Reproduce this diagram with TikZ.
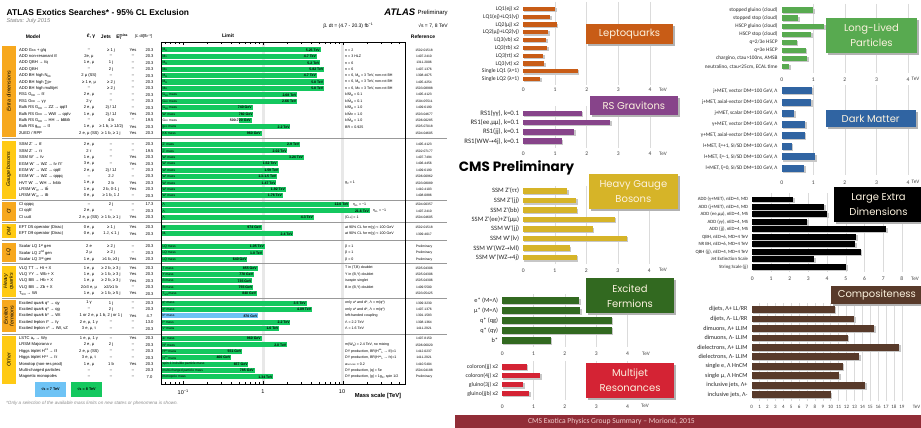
\documentclass[tikz,border=0pt]{standalone}
\usepackage{graphicx}
\usepackage{fontspec}
\setmainfont{Liberation Sans}
\newfontfamily\carl{Carlito}
\newfontfamily\popp{Poppins}
\newfontfamily\djv{DejaVu Sans}
\definecolor{agreen}{RGB}{20,200,95}
\definecolor{ablue}{RGB}{110,195,245}
\definecolor{corange}{RGB}{247,168,30}
\definecolor{cyellow}{RGB}{255,202,20}
\definecolor{lqc}{RGB}{200,92,22}
\definecolor{rsc}{RGB}{135,68,138}
\definecolor{hgc}{RGB}{214,180,40}
\definecolor{efc}{RGB}{50,105,32}
\definecolor{mjc}{RGB}{212,35,52}
\definecolor{llc}{RGB}{88,170,80}
\definecolor{dmc}{RGB}{48,100,162}
\definecolor{cpc}{RGB}{88,58,42}
\definecolor{boxtxt}{RGB}{252,242,222}
\definecolor{bandc}{RGB}{145,45,55}
\definecolor{bandtxt}{RGB}{240,205,205}
\newcommand{\fsz}[1]{\fontsize{#1}{#1}\selectfont}
\newcommand{\subx}[1]{\raisebox{-0.35ex}{\scalebox{0.7}{#1}}}
\newcommand{\supx}[1]{\raisebox{0.75ex}{\scalebox{0.7}{#1}}}
\newcommand{\car}{{\djv\scalebox{0.85}{→}}}
\newcounter{nd}
\def\barcol{agreen}
\def\barstart{161}
\def\clabsize{5.7}
\tikzset{
 atx/.style={font=\fsz{4.1}, inner sep=0pt},
 ntx/.style={font=\fsz{3.6}, inner sep=0pt, anchor=west},
 rtx/.style={font=\fsz{3.3}, inner sep=0pt},
 blx/.style={font=\fsz{3.3}, inner sep=0.4pt, anchor=west},
 vlx/.style={font=\bfseries\fsz{3.5}, inner sep=0.6pt, anchor=east},
 hdx/.style={font=\bfseries\fsz{5}, inner sep=0pt},
 clab/.style={font=\carl\fsz{\clabsize}, inner sep=0pt, anchor=east, text=black!85},
 caxis/.style={font=\carl\fsz{5.6}, inner sep=0pt, text=black!75},
 cgrid/.style={draw=black!14, line width=0.5pt},
 ttl/.style={font=\popp\fontsize{10}{15}\selectfont, text=boxtxt, align=center, inner sep=0pt},
 sepl/.style={draw=black!40, line width=0.9pt},
}
% ATLAS row: y, model, lep, jets, met, lumi, bar label, mass (TeV), value text
\newcommand{\arow}[9]{%
 \stepcounter{nd}%
 \node[atx,anchor=west] (mo\arabic{nd}) at (19,#1) {#2};
 \node[atx] (le\arabic{nd}) at (89,#1) {#3};
 \node[atx] (je\arabic{nd}) at (111,#1) {#4};
 \node[atx] (me\arabic{nd}) at (133,#1) {#5};
 \node[atx] (lu\arabic{nd}) at (149.5,#1) {#6};
 \pgfmathsetmacro\xe{263+80*log10(#8)}%
 \fill[\barcol] (\barstart,#1-2.5) rectangle (\xe,#1+2.5);
 \node[blx] (bl\arabic{nd}) at (162,#1) {#7};
 \node[vlx] (va\arabic{nd}) at (\xe,#1) {#9};
}
% note: y, x, note, reference
\newcommand{\anote}[4]{%
 \stepcounter{nd}%
 \node[ntx] (no\arabic{nd}) at (#2,#1) {#3};
 \node[rtx] (re\arabic{nd}) at (424,#1) {#4};
}
\newcommand{\catbox}[4]{%
 \stepcounter{nd}%
 \fill[#3] (2,#1) rectangle (15.5,#2);
 \node[rotate=90, font=\itshape\fontsize{5.3}{5.8}\selectfont, align=center, inner sep=0pt] (cat\arabic{nd}) at (8.75,{(#1+#2)/2}) {#4};
}
% CMS chart grid: x0, scale, ytop, ybot, nmax, ylabel, x of TeV
\newcommand{\cgridm}[7]{%
 \stepcounter{nd}%
 \foreach \i in {1,...,#5} {\draw[cgrid] ({#1+\i*#2},#3) -- ({#1+\i*#2},#4);}
 \foreach \i in {0,...,#5} {\node[caxis] (ax\arabic{nd}n\i) at ({#1+\i*#2},#6) {\i};}
 \node[caxis,font=\carl\fsz{5.2}] (tev\arabic{nd}) at (#7,#6-0.5) {TeV};
}
% CMS bar: x0, scale, y, value, half height, colour, label
\newcommand{\cbar}[7]{%
 \stepcounter{nd}%
 \fill[black!22] ({#1+1},{#3-#5+1.2}) rectangle ({#1+#4*#2+1.6},{#3+#5+1.2});
 \fill[#6] (#1,{#3-#5}) rectangle ({#1+#4*#2},{#3+#5});
 \node[clab] (cb\arabic{nd}) at ({#1-4},#3) {#7};
}
% title box: x1,y1,x2,y2,colour,text
\newcommand{\tbox}[6]{%
 \stepcounter{nd}%
 \fill[black!30] (#1+2,#2+2) rectangle (#3+2,#4+2);
 \fill[#5] (#1,#2) rectangle (#3,#4);
 \node[ttl] (tb\arabic{nd}) at ({(#1+#3)/2},{(#2+#4)/2}) {#6};
}
\begin{document}
\begin{tikzpicture}[x=1pt,y=-1pt]
\useasboundingbox (0,0) rectangle (921,428);
\fill[white] (0,0) rectangle (921,428);

%================ ATLAS panel =================
\node[font=\bfseries\fsz{8.4}, anchor=west, inner sep=0pt] (atitle) at (6.5,12) {ATLAS Exotics Searches* - 95\% CL Exclusion};
\node[font=\itshape\fsz{5.6}, text=black!50, anchor=west, inner sep=0pt] (astatus) at (6.5,21.5) {Status: July 2015};
\node[font=\bfseries\itshape\fsz{9.5}, anchor=east, inner sep=0pt] (atlas) at (415.5,12.5) {ATLAS};
\node[font=\fsz{6}, anchor=west, inner sep=0pt] (aprel) at (417.5,12.5) {Preliminary};
\node[font=\fsz{5}, inner sep=0pt] (alumi) at (348,25.5) {∫\textit{L} dt = (4.7 - 20.3) fb\supx{−1}};
\node[font=\fsz{5}, inner sep=0pt] (asqrts) at (433,25.5) {√s = 7, 8 TeV};

\node[hdx] (hmodel) at (33,36.5) {Model};
\node[hdx] (hlep) at (91,36.5) {\textit{ℓ}, γ};
\node[hdx] (hjets) at (106,36.5) {Jets};
\node[hdx] (hmet) at (122,36.5) {E\rlap{\subx{T}}\supx{miss}};
\node[hdx,font=\fsz{4.1}, anchor=west] (hlum) at (135,36.5) {∫\textit{L} dt[fb\supx{−1}]};
\node[hdx] (hlimit) at (228,35.5) {Limit};
\node[hdx] (href) at (423,36.7) {Reference};

% light bands at 1 and 10 TeV
\fill[black!9] (261.5,42) rectangle (264.5,384);
\fill[black!9] (340.5,42) rectangle (343.5,384);

% category boxes
\catbox{46.5}{136.5}{corange}{Extra dimensions}
\catbox{140.5}{198.5}{cyellow}{Gauge bosons}
\catbox{202}{220.5}{corange}{CI}
\catbox{224}{238}{cyellow}{DM}
\catbox{242.5}{262}{corange}{LQ}
\catbox{265.5}{297}{cyellow}{Heavy\\quarks}
\catbox{300}{332}{corange}{Excited\\fermions}
\catbox{336}{383.5}{cyellow}{Other}

% separators
\foreach \yy in {138.5,200,222.2,240.2,263.7,298.5,334} {\draw[sepl] (2,\yy) -- (447,\yy);}

% Extra dimensions
\arow{50}{ADD G\subx{KK} + g/q}{–}{≥ 1 j}{Yes}{20.3}{M\subx{D}}{5.25}{5.25 TeV}
\anote{50}{345}{n = 2}{1502.01518}
\arow{56.4}{ADD non-resonant ℓℓ}{2e, μ}{–}{–}{20.3}{M\subx{S}}{4.7}{4.7 TeV}
\anote{56.4}{345}{n = 3 HLZ}{1407.2410}
\arow{62.8}{ADD QBH → ℓq}{1 e, μ}{1 j}{–}{20.3}{M\subx{th}}{5.2}{5.2 TeV}
\anote{62.8}{345}{n = 6}{1311.2006}
\arow{69.2}{ADD QBH}{–}{2 j}{–}{20.3}{M\subx{th}}{5.82}{5.82 TeV}
\anote{69.2}{345}{n = 6}{1407.1376}
\arow{75.6}{ADD BH high N\subx{trk}}{2 μ (SS)}{–}{–}{20.3}{M\subx{th}}{4.7}{4.7 TeV}
\anote{75.6}{345}{n = 6, M\subx{D} = 3 TeV, non-rot BH}{1308.4075}
\arow{82}{ADD BH high ∑p\subx{T}}{≥ 1 e, μ}{≥ 2 j}{–}{20.3}{M\subx{th}}{5.8}{5.8 TeV}
\anote{82}{345}{n = 6, M\subx{D} = 3 TeV, non-rot BH}{1405.4254}
\arow{88.4}{ADD BH high multijet}{–}{≥ 2 j}{–}{20.3}{M\subx{th}}{5.8}{5.8 TeV}
\anote{88.4}{345}{n = 6, M\subx{D} = 3 TeV, non-rot BH}{1503.08988}
\arow{94.8}{RS1 G\subx{KK} → ℓℓ}{2 e, μ}{–}{–}{20.3}{G\subx{KK} mass}{2.68}{2.68 TeV}
\anote{94.8}{345}{k/\=M\subx{Pl} = 0.1}{1405.4123}
\arow{101.2}{RS1 G\subx{KK} → γγ}{2 γ}{–}{–}{20.3}{G\subx{KK} mass}{2.66}{2.66 TeV}
\anote{101.2}{345}{k/\=M\subx{Pl} = 0.1}{1504.05511}
\arow{107.6}{Bulk RS G\subx{KK} → ZZ → qqℓℓ}{2 e, μ}{2j / 1J}{–}{20.3}{G\subx{KK} mass}{0.74}{740 GeV}
\anote{107.6}{345}{k/\=M\subx{Pl} = 1.0}{1409.6190}
\arow{114}{Bulk RS G\subx{KK} → WW → qqℓν}{1 e, μ}{2j / 1J}{Yes}{20.3}{W' mass}{0.76}{760 GeV}
\anote{114}{345}{k/\=M\subx{Pl} = 1.0}{1503.04677}
\def\barstart{239}
\arow{120.4}{Bulk RS G\subx{KK} → HH → b\=bb\=b}{–}{4 b}{–}{19.5}{G\subx{KK} mass}{0.72}{500-720 GeV}
\def\barstart{161}
\anote{120.4}{345}{k/\=M\subx{Pl} = 1.0}{1506.00285}
\arow{126.8}{Bulk RS g\subx{KK} → t\=t}{1 e, μ}{≥ 1 b, ≥ 1J/2j}{Yes}{20.3}{g\subx{KK} mass}{2.2}{2.2 TeV}
\anote{126.8}{345}{BR = 0.925}{1505.07018}
\arow{133.2}{2UED / RPP}{2 e, μ (SS)}{≥ 1 b, ≥ 1 j}{Yes}{20.3}{KK mass}{0.96}{960 GeV}
\anote{133.2}{345}{}{1504.04605}

% Gauge bosons
\arow{144.5}{SSM Z' → ℓℓ}{2 e, μ}{–}{–}{20.3}{Z' mass}{2.9}{2.9 TeV}
\anote{144.5}{345}{}{1405.4123}
\arow{150.9}{SSM Z' → ττ}{2 τ}{–}{–}{19.5}{Z' mass}{2.02}{2.02 TeV}
\anote{150.9}{345}{}{1502.07177}
\arow{157.3}{SSM W' → ℓν}{1 e, μ}{–}{Yes}{20.3}{W' mass}{3.24}{3.24 TeV}
\anote{157.3}{345}{}{1407.7494}
\arow{163.7}{EGM W' → WZ → ℓν ℓ'ℓ'}{3 e, μ}{–}{Yes}{20.3}{W' mass}{1.52}{1.52 TeV}
\anote{163.7}{345}{}{1406.4456}
\arow{170.1}{EGM W' → WZ → qqℓℓ}{2 e, μ}{2j / 1J}{–}{20.3}{W' mass}{1.59}{1.59 TeV}
\anote{170.1}{345}{}{1409.6190}
\arow{176.5}{EGM W' → WZ → qqqq}{–}{2 J}{–}{20.3}{W' mass}{1.5}{1.3-1.5 TeV}
\anote{176.5}{345}{}{1506.00962}
\arow{182.9}{HVT W' → WH → ℓνbb}{1 e, μ}{2 b}{Yes}{20.3}{W' mass}{1.47}{1.47 TeV}
\anote{182.9}{345}{g\subx{V} = 1}{1503.08089}
\arow{189.3}{LRSM W'\subx{R} → t\=b}{1 e, μ}{2 b, 0-1 j}{Yes}{20.3}{W' mass}{1.92}{1.92 TeV}
\anote{189.3}{345}{}{1410.4103}
\arow{195.7}{LRSM W'\subx{R} → t\=b}{0 e, μ}{≥ 1 b, 1 J}{–}{20.3}{W' mass}{1.76}{1.76 TeV}
\anote{195.7}{345}{}{1408.0886}

% CI
\arow{204.5}{CI qqqq}{–}{2 j}{–}{17.3}{Λ}{12.0}{12.0 TeV}
\anote{204.5}{353}{η\subx{LL} = −1}{1504.00357}
\arow{210.9}{CI qqℓℓ}{2 e, μ}{–}{–}{20.3}{Λ}{21.6}{21.6 TeV}
\anote{210.9}{373}{η\subx{LL} = −1}{1407.2410}
\arow{217.3}{CI uutt}{2 e, μ (SS)}{≥ 1 b, ≥ 1 j}{Yes}{20.3}{Λ}{4.3}{4.3 TeV}
\anote{217.3}{345}{|C\subx{LL}| = 1}{1504.04605}

% DM
\arow{227.5}{EFT D5 operator (Dirac)}{0 e, μ}{≥ 1 j}{Yes}{20.3}{M\subx{*}}{0.974}{974 GeV}
\anote{227.5}{345}{at 90\% CL for m(χ) < 100 GeV}{1502.01518}
\arow{233.9}{EFT D9 operator (Dirac)}{0 e, μ}{1 J, ≤ 1 j}{Yes}{20.3}{M\subx{*}}{2.4}{2.4 TeV}
\anote{233.9}{345}{at 90\% CL for m(χ) < 100 GeV}{1309.4017}

% LQ
\arow{246.5}{Scalar LQ 1\supx{st} gen}{2 e}{≥ 2 j}{–}{20.3}{LQ mass}{1.05}{1.05 TeV}
\anote{246.5}{345}{β = 1}{Preliminary}
\arow{252.9}{Scalar LQ 2\supx{nd} gen}{2 μ}{≥ 2 j}{–}{20.3}{LQ mass}{1.0}{1.0 TeV}
\anote{252.9}{345}{β = 1}{Preliminary}
\arow{259.3}{Scalar LQ 3\supx{rd} gen}{1 e, μ}{≥1 b, ≥3 j}{Yes}{20.3}{LQ mass}{0.64}{640 GeV}
\anote{259.3}{345}{β = 0}{Preliminary}

% Heavy quarks
\arow{268}{VLQ TT → Ht + X}{1 e, μ}{≥ 2 b, ≥ 3 j}{Yes}{20.3}{T mass}{0.855}{855 GeV}
\anote{268}{345}{T in (T,B) doublet}{1505.04306}
\arow{274.4}{VLQ YY → Wb + X}{1 e, μ}{≥ 1 b, ≥ 3 j}{Yes}{20.3}{Y mass}{0.77}{770 GeV}
\anote{274.4}{345}{Y in (B,Y) doublet}{1505.04306}
\arow{280.8}{VLQ BB → Hb + X}{1 e, μ}{≥ 2 b, ≥ 3 j}{Yes}{20.3}{B mass}{0.735}{735 GeV}
\anote{280.8}{345}{isospin singlet}{1505.04306}
\arow{287.2}{VLQ BB → Zb + X}{2/≥3 e, μ}{≥2/≥1 b}{–}{20.3}{B mass}{0.755}{755 GeV}
\anote{287.2}{345}{B in (B,Y) doublet}{1409.5500}
\arow{293.6}{T\subx{5/3} → Wt}{1 e, μ}{≥ 1 b, ≥ 5 j}{Yes}{20.3}{T\subx{5/3} mass}{0.84}{840 GeV}
\anote{293.6}{345}{}{1503.05425}

% Excited fermions
\arow{303}{Excited quark q* → qγ}{1 γ}{1 j}{–}{20.3}{q* mass}{3.5}{3.5 TeV}
\anote{303}{345}{only u* and d*, Λ = m(q*)}{1309.3230}
\arow{309.4}{Excited quark q* → qg}{–}{2 j}{–}{20.3}{q* mass}{4.09}{4.09 TeV}
\anote{309.4}{345}{only u* and d*, Λ = m(q*)}{1407.1376}
\def\barcol{ablue}
\arow{315.8}{Excited quark b* → Wt}{1 or 2 e, μ}{1 b, 2 j or 1 j}{Yes}{4.7}{b* mass}{0.87}{870 GeV}
\def\barcol{agreen}
\anote{315.8}{345}{left-handed coupling}{1301.1583}
\arow{322.2}{Excited lepton ℓ* → ℓγ}{2 e, μ, 1 γ}{–}{–}{13.0}{ℓ* mass}{2.2}{2.2 TeV}
\anote{322.2}{345}{Λ = 2.2 TeV}{1308.1364}
\arow{328.6}{Excited lepton ν* → ℓW, νZ}{3 e, μ, τ}{–}{–}{20.3}{ν* mass}{1.6}{1.6 TeV}
\anote{328.6}{345}{Λ = 1.6 TeV}{1411.2921}

% Other
\arow{338.5}{LSTC a\subx{T} → Wγ}{1 e, μ, 1 γ}{–}{Yes}{20.3}{a\subx{T} mass}{0.96}{960 GeV}
\anote{338.5}{345}{}{1407.8150}
\arow{344.9}{LRSM Majorana ν}{2 e, μ}{2 j}{–}{20.3}{N\supx{0} mass}{2.0}{2.0 TeV}
\anote{344.9}{345}{m(W\subx{R}) = 2.4 TeV, no mixing}{1506.06020}
\arow{351.3}{Higgs triplet H\supx{±±} → ℓℓ}{2 e, μ (SS)}{–}{–}{20.3}{H\supx{±±} mass}{0.551}{551 GeV}
\anote{351.3}{345}{DY production, BR(H\supx{±±}\subx{L} → ℓℓ)=1}{1412.0237}
\arow{357.7}{Higgs triplet H\supx{±±} → ℓτ}{3 e, μ, τ}{–}{–}{20.3}{H\supx{±±} mass}{0.4}{400 GeV}
\anote{357.7}{345}{DY production, BR(H\supx{±±}\subx{L} → ℓτ)=1}{1411.2921}
\arow{364.1}{Monotop (non-res prod)}{1 e, μ}{1 b}{Yes}{20.3}{spin-1 invisible particle mass}{0.657}{657 GeV}
\anote{364.1}{345}{a\subx{non-res} = 0.2}{1410.5404}
\arow{370.5}{Multi-charged particles}{–}{–}{–}{20.3}{multi-charged particle mass}{0.785}{785 GeV}
\anote{370.5}{345}{DY production, |q| = 5e}{1504.04188}
\arow{376.9}{Magnetic monopoles}{–}{–}{–}{7.0}{monopole mass}{1.34}{1.34 TeV}
\anote{376.9}{345}{DY production, |g| = 1g\subx{D}, spin 1/2}{Preliminary}

% chart frame and ticks
\draw[line width=0.6pt] (161,42) rectangle (405,384);
\foreach \d in {-2,-1,0,1} {
  \foreach \k in {1,...,9} {
    \pgfmathsetmacro\xt{263+80*(\d+log10(\k))}
    \pgfmathsetmacro\tl{(\k==1)?3.5:1.8}
    \ifdim\xt pt>161.5pt \ifdim\xt pt<404.5pt
      \draw[line width=0.4pt] (\xt,42) -- (\xt,42+\tl);
      \draw[line width=0.4pt] (\xt,384) -- (\xt,384-\tl);
    \fi\fi
  }
}
\node[font=\fsz{5.5}, inner sep=0pt] (tk1) at (183,392) {10\supx{−1}};
\node[font=\fsz{5.5}, inner sep=0pt] (tk2) at (263,391.5) {1};
\node[font=\fsz{5.5}, inner sep=0pt] (tk3) at (342,391.5) {10};
\node[font=\bfseries\fsz{5.8}, inner sep=0pt] (mscale) at (378,396) {Mass scale [TeV]};

% legend
\fill[ablue] (35,382) rectangle (66,397);
\node[font=\bfseries\fsz{3.8}, inner sep=0pt] (leg7) at (50.5,389.5) {√s = 7 TeV};
\fill[agreen] (71,382) rectangle (102,397);
\node[font=\bfseries\fsz{3.8}, inner sep=0pt] (leg8) at (86.5,389.5) {√s = 8 TeV};
\node[font=\itshape\fsz{4.6}, text=black!45, anchor=west, inner sep=0pt] (foot) at (6,403.5) {*Only a selection of the available mass limits on new states or phenomena is shown.};

%================ CMS panel =================
% Leptoquarks
\def\clabsize{5.7}
\cgridm{523.3}{31.7}{2}{85}{4}{90}{663}
\cbar{523.3}{31.7}{9}{1.0}{2.1}{lqc}{LQ1(ej) x2}
\cbar{523.3}{31.7}{16.8}{0.84}{2.1}{lqc}{LQ1(ej)+LQ1(νj)}
\cbar{523.3}{31.7}{24.6}{1.05}{2.1}{lqc}{LQ2(μj) x2}
\cbar{523.3}{31.7}{32.4}{0.79}{2.1}{lqc}{LQ2(μj)+LQ2(νj)}
\cbar{523.3}{31.7}{40.2}{0.72}{2.1}{lqc}{LQ3(νb) x2}
\cbar{523.3}{31.7}{48}{0.76}{2.1}{lqc}{LQ3(τb) x2}
\cbar{523.3}{31.7}{55.8}{0.63}{2.1}{lqc}{LQ3(τt) x2}
\cbar{523.3}{31.7}{63.6}{0.65}{2.1}{lqc}{LQ3(νt) x2}
\cbar{523.3}{31.7}{71.4}{1.72}{2.1}{lqc}{Single LQ1 (λ=1)}
\cbar{523.3}{31.7}{79.2}{0.53}{2.1}{lqc}{Single LQ2 (λ=1)}
\tbox{585.7}{24}{673.3}{44.3}{lqc}{Leptoquarks}

% RS gravitons
\def\clabsize{6.8}
\cgridm{523.3}{31.7}{106}{148}{4}{154}{663}
\cbar{523.3}{31.7}{113.3}{1.84}{2.7}{rsc}{RS1(γγ), k=0.1}
\cbar{523.3}{31.7}{122.5}{2.74}{2.7}{rsc}{RS1(ee,μμ), k=0.1}
\cbar{523.3}{31.7}{131.8}{1.61}{2.7}{rsc}{RS1(jj), k=0.1}
\cbar{523.3}{31.7}{141.1}{1.21}{2.7}{rsc}{RS1(WW\car4j), k=0.1}
\tbox{590}{95.7}{677.7}{115}{rsc}{RS Gravitons}

\node[font=\popp\bfseries\fsz{13.5}, inner sep=0pt] (cmsprel) at (516.5,167.5) {CMS Preliminary};

% Heavy gauge bosons
\def\clabsize{6.6}
\cgridm{523.3}{31.5}{186}{264}{4}{270.7}{663}
\cbar{523.3}{31.5}{191}{1.39}{2.7}{hgc}{SSM Z'(ττ)}
\cbar{523.3}{31.5}{200.6}{1.68}{2.7}{hgc}{SSM Z'(jj)}
\cbar{523.3}{31.5}{210.1}{1.7}{2.7}{hgc}{SSM Z'(bb)}
\cbar{523.3}{31.5}{219.5}{2.9}{2.7}{hgc}{SSM Z'(ee)+Z'(μμ)}
\cbar{523.3}{31.5}{229}{2.2}{2.7}{hgc}{SSM W'(jj)}
\cbar{523.3}{31.5}{238.5}{3.28}{2.7}{hgc}{SSM W'(lν)}
\cbar{523.3}{31.5}{248.1}{1.47}{2.7}{hgc}{SSM W'(WZ\car lνll)}
\cbar{523.3}{31.5}{257.6}{1.7}{2.7}{hgc}{SSM W'(WZ\car4j)}
\tbox{589}{174}{677.7}{209.3}{hgc}{Heavy Gauge\\Bosons}

% Excited fermions
\def\clabsize{6.3}
\cgridm{502.3}{31.3}{294}{347}{4}{354}{646}
\cbar{502.3}{31.3}{300.7}{2.46}{3.3}{efc}{e* (M=Λ)}
\cbar{502.3}{31.3}{310.6}{2.48}{3.3}{efc}{μ* (M=Λ)}
\cbar{502.3}{31.3}{320.5}{3.5}{3.3}{efc}{q* (qg)}
\cbar{502.3}{31.3}{330.4}{3.5}{3.3}{efc}{q* (qγ)}
\cbar{502.3}{31.3}{340.2}{1.54}{3.3}{efc}{b*}
\tbox{585.7}{278.3}{674.3}{313.3}{efc}{Excited\\Fermions}

% Multijet resonances
\def\clabsize{5.8}
\cgridm{502.3}{31.3}{361}{400}{4}{406.7}{645}
\cbar{502.3}{31.3}{366.7}{0.78}{2.8}{mjc}{coloron(jj) x2}
\cbar{502.3}{31.3}{375.6}{1.22}{2.8}{mjc}{coloron(4j) x2}
\cbar{502.3}{31.3}{384.5}{0.67}{2.8}{mjc}{gluino(3j) x2}
\cbar{502.3}{31.3}{393.4}{0.86}{2.8}{mjc}{gluino(jjb) x2}
\tbox{585.7}{362.7}{674.3}{398.3}{mjc}{Multijet\\Resonances}

% Long-lived particles
\def\clabsize{5.3}
\cgridm{781.7}{31.6}{4}{73}{4}{79.3}{915.5}
\cbar{781.7}{31.6}{10}{1.0}{2.6}{llc}{stopped gluino (cloud)}
\cbar{781.7}{31.6}{18.1}{0.53}{2.6}{llc}{stopped stop (cloud)}
\cbar{781.7}{31.6}{26.2}{1.34}{2.6}{llc}{HSCP gluino (cloud)}
\cbar{781.7}{31.6}{34.3}{0.93}{2.6}{llc}{HSCP stop (cloud)}
\cbar{781.7}{31.6}{42.4}{0.48}{2.6}{llc}{q=2/3e HSCP}
\cbar{781.7}{31.6}{50.5}{0.76}{2.6}{llc}{q=3e HSCP}
\cbar{781.7}{31.6}{58.6}{0.81}{2.6}{llc}{chargino, ctau>100ns, AMSB}
\cbar{781.7}{31.6}{66.7}{0.23}{2.6}{llc}{neutralino, ctau<25cm, ECAL time}
\tbox{825.7}{18.3}{917.3}{52.7}{llc}{Long-Lived\\Particles}

% Dark matter
\def\clabsize{5.3}
\cgridm{781.7}{31.6}{85}{175}{4}{182.7}{915.5}
\cbar{781.7}{31.6}{90.7}{0.96}{3.5}{dmc}{j+MET, vector DM=100 GeV, Λ}
\cbar{781.7}{31.6}{102}{0.93}{3.5}{dmc}{j+MET, axial-vector DM=100 GeV, Λ}
\cbar{781.7}{31.6}{113.2}{0.40}{3.5}{dmc}{j+MET, scalar DM=100 GeV, Λ}
\cbar{781.7}{31.6}{124.3}{0.74}{3.5}{dmc}{γ+MET, vector DM=100 GeV, Λ}
\cbar{781.7}{31.6}{135.3}{0.73}{3.5}{dmc}{γ+MET, axial-vector DM=100 GeV, Λ}
\cbar{781.7}{31.6}{146}{0.32}{3.5}{dmc}{l+MET, ξ=+1, SI/SD DM=100 GeV, Λ}
\cbar{781.7}{31.6}{156.8}{1.06}{3.5}{dmc}{l+MET, ξ=-1, SI/SD DM=100 GeV, Λ}
\cbar{781.7}{31.6}{168.3}{0.71}{3.5}{dmc}{l+MET, ξ=0, SI/SD DM=100 GeV, Λ}
\tbox{825.7}{110}{915.7}{127.3}{dmc}{Dark Matter}

% Large extra dimensions
\def\clabsize{4.8}
\cgridm{752.3}{18.7}{193}{272}{8}{279}{915}
\cbar{752.3}{18.7}{199.3}{2.2}{2.8}{black}{ADD (γ+MET), nED=4, MD}
\cbar{752.3}{18.7}{206.8}{3.86}{2.8}{black}{ADD (j+MET), nED=4, MD}
\cbar{752.3}{18.7}{214.2}{4.0}{2.8}{black}{ADD (ee,μμ), nED=4, MS}
\cbar{752.3}{18.7}{221.7}{2.92}{2.8}{black}{ADD (γγ), nED=4, MS}
\cbar{752.3}{18.7}{229.2}{7.17}{2.8}{black}{ADD (jj), nED=4, MS}
\cbar{752.3}{18.7}{236.7}{5.57}{2.8}{black}{QBH, nED=6, MD=4 TeV}
\cbar{752.3}{18.7}{244.2}{5.49}{2.8}{black}{NR BH, nED=6, MD=4 TeV}
\cbar{752.3}{18.7}{251.7}{5.79}{2.8}{black}{QBH (jj), nED=4, MD=4 TeV}
\cbar{752.3}{18.7}{259.2}{3.32}{2.8}{black}{Jet Extinction Scale}
\cbar{752.3}{18.7}{266.7}{5.02}{2.8}{black}{String Scale (jj)}
\tbox{834}{186.7}{923}{221.7}{black}{Large Extra\\Dimensions}

% Compositeness
\stepcounter{nd}
\foreach \i in {1,...,19} {\draw[cgrid] ({751.7+\i*7.9},303) -- ({751.7+\i*7.9},401);}
\foreach \i in {0,...,19} {\node[caxis,font=\carl\fsz{5}] (cx\i) at ({751.7+\i*7.9},407.3) {\i};}
\node[caxis,font=\carl\fsz{5}] (cxtev) at (916.5,407) {TeV};
\def\clabsize{6.1}
\cbar{751.7}{7.9}{309.3}{10.5}{3.3}{cpc}{dijets, Λ+ LL/RR}
\cbar{751.7}{7.9}{318.8}{12.95}{3.3}{cpc}{dijets, Λ- LL/RR}
\cbar{751.7}{7.9}{328.3}{15.5}{3.3}{cpc}{dimuons, Λ+ LLIM}
\cbar{751.7}{7.9}{337.8}{12.15}{3.3}{cpc}{dimuons, Λ- LLIM}
\cbar{751.7}{7.9}{347.3}{18.65}{3.3}{cpc}{dielectrons, Λ+ LLIM}
\cbar{751.7}{7.9}{356.7}{13.6}{3.3}{cpc}{dielectrons, Λ- LLIM}
\cbar{751.7}{7.9}{366.2}{11.5}{3.3}{cpc}{single e, Λ HnCM}
\cbar{751.7}{7.9}{375.7}{11.05}{3.3}{cpc}{single μ, Λ HnCM}
\cbar{751.7}{7.9}{385.2}{14.4}{3.3}{cpc}{inclusive jets, Λ+}
\cbar{751.7}{7.9}{394.7}{10.0}{3.3}{cpc}{inclusive jets, Λ-}
\tbox{830.7}{286}{923}{304.3}{cpc}{Compositeness}

% bottom band
\fill[bandc] (455,415) rectangle (921,428);
\node[font=\carl\fsz{7.6}, text=bandtxt, inner sep=0pt] (band) at (611.5,421.8) {CMS Exotica Physics Group Summary – Moriond, 2015};
\end{tikzpicture}
\end{document}
